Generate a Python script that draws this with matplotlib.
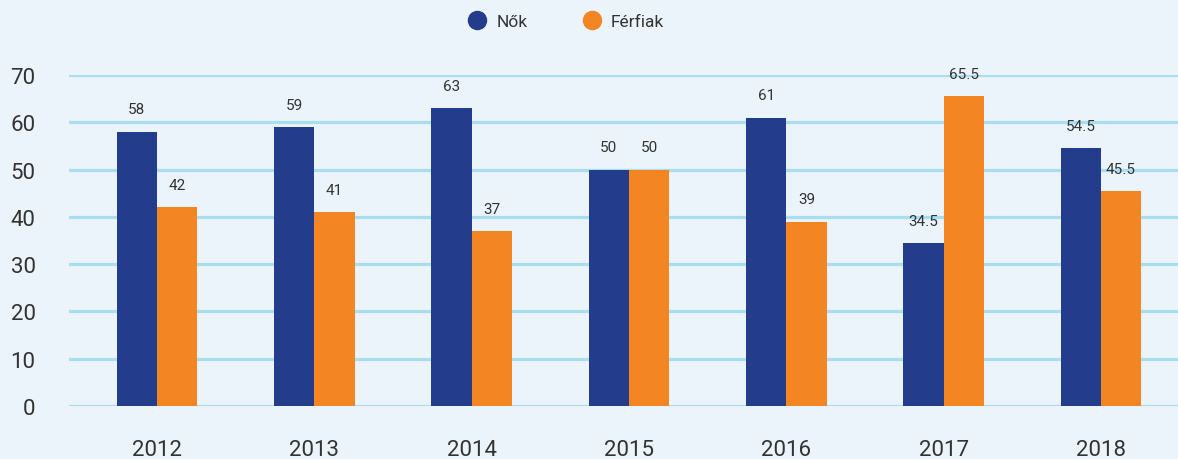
import matplotlib.pyplot as plt
from matplotlib.lines import Line2D
import numpy as np

# Data
years = ['2012', '2013', '2014', '2015', '2016', '2017', '2018']
nok = [58, 59, 63, 50, 61, 34.5, 54.5]
ferfiak = [42, 41, 37, 50, 39, 65.5, 45.5]

blue = '#243c8c'
orange = '#f38522'
bg = '#ebf4fb'
grid_col = '#a9ddf0'
txt = '#333333'

plt.rcParams['font.family'] = ['Roboto', 'DejaVu Sans']

fig = plt.figure(figsize=(11.78, 4.6), dpi=100, facecolor=bg)
ax = fig.add_axes([69 / 1178, 53 / 460, 1 - 69 / 1178, 331 / 460], facecolor=bg)

x = np.arange(len(years))
w = 0.256
b1 = ax.bar(x - w / 2, nok, w, color=blue, zorder=3)
b2 = ax.bar(x + w / 2, ferfiak, w, color=orange, zorder=3)

for bars, vals in ((b1, nok), (b2, ferfiak)):
    for r, v in zip(bars, vals):
        lab = f'{v:g}'
        ax.annotate(lab, (r.get_x() + r.get_width() / 2, v), xytext=(0, 11),
                    textcoords='offset points', ha='center', va='bottom',
                    fontsize=11, color=txt, annotation_clip=False)

ax.set_ylim(0, 70)
ax.set_xlim(-0.559, 6.49)
ax.set_yticks(range(0, 71, 10))
ax.set_xticks(x)
ax.set_xticklabels(years)
ax.tick_params(axis='both', length=0, labelsize=16, labelcolor=txt)
ax.tick_params(axis='y', pad=24)
ax.tick_params(axis='x', pad=24)
ax.yaxis.grid(True, color=grid_col, linewidth=2.3, zorder=0)
ax.set_axisbelow(True)
for s in ax.spines.values():
    s.set_visible(False)

# Legend
handles = [Line2D([], [], marker='o', linestyle='', markersize=13, color=blue, label='Nők'),
           Line2D([], [], marker='o', linestyle='', markersize=13, color=orange, label='Férfiak')]
fig.legend(handles=handles, loc='center', bbox_to_anchor=(562 / 1178, 1 - 22 / 460), ncol=2,
           frameon=False, fontsize=12.5, labelcolor=txt, handletextpad=0.1, columnspacing=2.7)

plt.savefig('out.png', dpi=100, facecolor=bg)
